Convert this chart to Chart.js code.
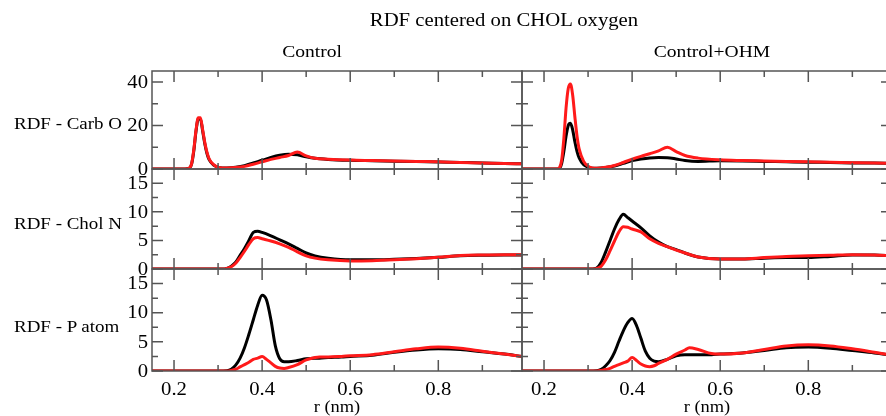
<!DOCTYPE html>
<html>
<head>
<meta charset="utf-8">
<script src="https://cdn.jsdelivr.net/npm/chart.js@4.4.1/dist/chart.umd.min.js"></script>
<style>
  html, body { margin: 0; padding: 0; background: #fff; }
  body { width: 886px; height: 416px; overflow: hidden; position: relative;
         font-family: "Liberation Serif", "DejaVu Serif", serif; color: #000; }
  canvas { position: absolute; left: 0; top: 0; }
  .lbl { position: absolute; white-space: nowrap; line-height: 1; }
</style>
</head>
<body>
<canvas id="c0" width="900" height="416"></canvas>
<canvas id="c1" width="900" height="416"></canvas>
<canvas id="c2" width="900" height="416"></canvas>
<canvas id="c3" width="900" height="416"></canvas>
<canvas id="c4" width="900" height="416"></canvas>
<canvas id="c5" width="900" height="416"></canvas>
<script>
// r values (nm) for each row of panels
const rCarb = [0.15, 0.2, 0.22, 0.23, 0.235, 0.24, 0.245, 0.25, 0.255, 0.26, 0.265, 0.27, 0.275, 0.28, 0.29,
  0.30, 0.31, 0.32, 0.34, 0.36, 0.38, 0.40, 0.42, 0.44, 0.46, 0.48, 0.50, 0.52, 0.55, 0.60, 0.65, 0.70,
  0.75, 0.80, 0.85, 0.90, 0.95, 0.99];
const carbControlBlack = [0, 0, 0, 0.1, 0.4, 2.3, 8.5, 17.5, 23, 23, 17.5, 11.5, 7, 4.2, 1.8,
  0.8, 0.5, 0.5, 0.8, 1.5, 2.8, 4.0, 5.3, 6.3, 6.8, 6.5, 5.6, 4.9, 4.4, 4.0, 3.8, 3.6,
  3.4, 3.2, 3.0, 2.8, 2.5, 2.4];
const carbControlRed = [0, 0, 0, 0.1, 0.5, 2.5, 9, 18, 23.5, 23.5, 18, 12, 7.5, 4.5, 2.0,
  0.8, 0.5, 0.5, 0.7, 1.2, 2.2, 3.3, 4.4, 5.3, 6.2, 7.8, 6.0, 4.9, 4.5, 4.1, 3.9, 3.7,
  3.5, 3.3, 3.0, 2.8, 2.5, 2.4];
const carbOhmBlack = [0, 0, 0, 0, 0.3, 2.5, 8, 15, 20, 21, 18, 12.5, 8, 5, 2,
  0.9, 0.4, 0.4, 0.7, 1.4, 2.6, 3.9, 4.6, 5.1, 5.3, 5.2, 4.6, 3.9, 3.5, 3.8, 3.7, 3.5,
  3.3, 3.1, 3.0, 2.8, 2.7, 2.6];
const carbOhmRed = [0, 0, 0, 0, 0.5, 4, 14, 28, 37, 39, 34, 24, 15, 9, 3.5,
  1.3, 0.5, 0.4, 0.8, 1.6, 3.0, 4.5, 5.8, 7.0, 8.3, 10.0, 8.0, 6.2, 5.0, 4.2, 3.9, 3.7,
  3.5, 3.3, 3.1, 2.9, 2.7, 2.6];

const rCholN = [0.15, 0.2, 0.25, 0.30, 0.31, 0.32, 0.33, 0.34, 0.35, 0.36, 0.37, 0.38, 0.39, 0.40,
  0.42, 0.44, 0.46, 0.48, 0.50, 0.52, 0.55, 0.60, 0.65, 0.70, 0.75, 0.80, 0.85, 0.90, 0.95, 0.99];
const cholControlBlack = [0, 0, 0, 0, 0, 0.1, 0.5, 1.2, 2.4, 3.6, 5.0, 6.4, 6.6, 6.4,
  5.8, 5.1, 4.4, 3.6, 2.8, 2.3, 1.9, 1.6, 1.6, 1.7, 1.85, 2.05, 2.3, 2.4, 2.45, 2.45];
const cholControlRed = [0, 0, 0, 0, 0, 0.1, 0.4, 1.0, 2.0, 3.1, 4.3, 5.3, 5.5, 5.3,
  4.9, 4.4, 3.8, 3.0, 2.3, 1.9, 1.6, 1.4, 1.45, 1.6, 1.8, 2.05, 2.35, 2.45, 2.5, 2.5];
const cholOhmBlack = [0, 0, 0, 0, 0, 0.2, 1.2, 3.0, 5.0, 7.0, 8.6, 9.6, 9.0, 8.4,
  7.2, 5.8, 4.7, 3.9, 3.4, 2.8, 2.1, 1.75, 1.75, 1.9, 2.0, 2.0, 2.2, 2.45, 2.45, 2.3];
const cholOhmRed = [0, 0, 0, 0, 0, 0.1, 0.5, 1.6, 3.2, 4.9, 6.5, 7.4, 7.3, 7.0,
  6.5, 5.3, 4.5, 3.9, 3.3, 2.8, 2.1, 1.75, 1.75, 2.0, 2.2, 2.3, 2.4, 2.5, 2.45, 2.3];

const rPatom = [0.15, 0.2, 0.25, 0.30, 0.32, 0.33, 0.34, 0.35, 0.36, 0.37, 0.38, 0.39, 0.40, 0.41,
  0.42, 0.43, 0.44, 0.45, 0.46, 0.48, 0.50, 0.52, 0.53, 0.55, 0.58, 0.60, 0.65, 0.70, 0.75, 0.80,
  0.85, 0.90, 0.95, 0.99];
const patomControlBlack = [0, 0, 0, 0, 0.05, 0.3, 1.0, 2.2, 4.0, 6.3, 8.8, 11.3, 13.0, 12.2,
  8.8, 4.3, 2.1, 1.6, 1.6, 1.8, 2.1, 2.2, 2.2, 2.3, 2.4, 2.5, 2.7, 3.2, 3.6, 3.8,
  3.7, 3.3, 2.9, 2.5];
const patomControlRed = [0, 0, 0, 0, 0, 0.1, 0.3, 0.7, 1.1, 1.5, 2.0, 2.2, 2.5, 2.0,
  1.4, 0.8, 0.5, 0.45, 0.6, 1.1, 1.9, 2.3, 2.4, 2.4, 2.5, 2.6, 2.8, 3.3, 3.8, 4.1,
  3.9, 3.4, 2.9, 2.5];
const patomOhmBlack = [0, 0, 0, 0, 0.05, 0.3, 0.9, 1.8, 3.2, 5.1, 6.9, 8.3, 9.0, 7.8,
  5.6, 3.4, 2.2, 1.7, 1.6, 2.0, 2.6, 2.8, 2.8, 2.8, 2.8, 2.9, 3.1, 3.5, 4.0, 4.1,
  3.9, 3.5, 3.1, 2.7];
const patomOhmRed = [0, 0, 0, 0, 0, 0.1, 0.25, 0.45, 0.8, 1.1, 1.4, 1.7, 2.3, 1.8,
  1.2, 0.85, 0.75, 0.9, 1.3, 2.0, 2.9, 3.6, 4.0, 3.7, 3.0, 2.9, 3.1, 3.7, 4.3, 4.5,
  4.3, 3.8, 3.2, 2.7];

const xMajor = [0.2, 0.4, 0.6, 0.8];
const xMinor = [0.3, 0.5, 0.7, 0.9];
const yMajorCarb = [0, 20, 40];
const yMinorCarb = [10, 30];
const yMajor = [0, 5, 10, 15];
const yMinor = [2.5, 7.5, 12.5];

const rowLabels = ['RDF - Carb O', 'RDF - Chol N', 'RDF - P atom'];
const colLabels = ['Control', 'Control+OHM'];

const STRETCH = 1.15;
const FONT = '"Liberation Serif", "DejaVu Serif", serif';

function pts(xs, ys) {
  return xs.map((x, i) => ({ x: x, y: ys[i] }));
}

// draws the grace-like frame, inward ticks and tick labels
const framePlugin = {
  id: 'frame',
  afterDraw(chart, args, opts) {
    const ctx = chart.ctx;
    const a = chart.chartArea;
    const xs = chart.scales.x, ys = chart.scales.y;
    ctx.save();
    ctx.strokeStyle = '#555555';
    ctx.lineWidth = 1.5;
    ctx.strokeRect(a.left, a.top, a.right - a.left, a.bottom - a.top);
    ctx.beginPath();
    const tick = (vals, len) => {
      vals.forEach(v => {
        const px = xs.getPixelForValue(v);
        ctx.moveTo(px, a.bottom); ctx.lineTo(px, a.bottom - len);
        ctx.moveTo(px, a.top); ctx.lineTo(px, a.top + len);
      });
    };
    tick(xMajor, 11);
    tick(xMinor, 6);
    const ytick = (vals, len) => {
      vals.forEach(v => {
        const py = ys.getPixelForValue(v);
        ctx.moveTo(a.left, py); ctx.lineTo(a.left + len, py);
        ctx.moveTo(a.right, py); ctx.lineTo(a.right - len, py);
      });
    };
    ytick(opts.yMajor, 11);
    ytick(opts.yMinor, 6);
    ctx.stroke();

    ctx.fillStyle = '#000';
    ctx.font = '18px ' + FONT;
    ctx.textBaseline = 'middle';
    if (opts.yLabels) {
      ctx.textAlign = 'right';
      opts.yMajor.forEach(v => {
        ctx.save();
        ctx.translate(a.left - 4, ys.getPixelForValue(v) + 1);
        ctx.scale(STRETCH, 1);
        ctx.fillText(String(v), 0, 0);
        ctx.restore();
      });
    }
    if (opts.xLabels) {
      ctx.textAlign = 'center';
      xMajor.forEach(v => {
        ctx.save();
        ctx.translate(xs.getPixelForValue(v), a.bottom + 19);
        ctx.scale(STRETCH, 1);
        ctx.fillText(String(v), 0, 0);
        ctx.restore();
      });
    }
    ctx.restore();
  }
};

const cols = [[152, 522], [522, 892]];
const rows = [[71, 169], [169, 269], [269, 371]];

const panels = [
  { row: 0, col: 0, r: rCarb, black: carbControlBlack, red: carbControlRed, yMax: 45, yMajor: yMajorCarb, yMinor: yMinorCarb },
  { row: 0, col: 1, r: rCarb, black: carbOhmBlack, red: carbOhmRed, yMax: 45, yMajor: yMajorCarb, yMinor: yMinorCarb },
  { row: 1, col: 0, r: rCholN, black: cholControlBlack, red: cholControlRed, yMax: 17.5, yMajor: yMajor, yMinor: yMinor },
  { row: 1, col: 1, r: rCholN, black: cholOhmBlack, red: cholOhmRed, yMax: 17.5, yMajor: yMajor, yMinor: yMinor },
  { row: 2, col: 0, r: rPatom, black: patomControlBlack, red: patomControlRed, yMax: 17.5, yMajor: yMajor, yMinor: yMinor },
  { row: 2, col: 1, r: rPatom, black: patomOhmBlack, red: patomOhmRed, yMax: 17.5, yMajor: yMajor, yMinor: yMinor }
];

panels.forEach((p, i) => {
  const canvas = document.getElementById('c' + i);
  const [left, right] = cols[p.col];
  const [top, bottom] = rows[p.row];
  new Chart(canvas, {
    type: 'line',
    data: {
      datasets: [
        { data: pts(p.r, p.red), borderColor: '#ff1a1a', borderWidth: 3 },
        { data: pts(p.r, p.black), borderColor: '#000000', borderWidth: 3 }
      ]
    },
    options: {
      responsive: false,
      animation: false,
      devicePixelRatio: 1,
      layout: { padding: { left: left, top: top, right: canvas.width - right, bottom: canvas.height - bottom } },
      elements: {
        point: { radius: 0 },
        line: { cubicInterpolationMode: 'monotone', borderCapStyle: 'round', borderJoinStyle: 'round' }
      },
      scales: {
        x: { type: 'linear', min: 0.15, max: 0.99, display: false },
        y: { type: 'linear', min: 0, max: p.yMax, display: false }
      },
      plugins: {
        legend: { display: false },
        tooltip: { enabled: false },
        frame: { yMajor: p.yMajor, yMinor: p.yMinor, yLabels: p.col === 0, xLabels: p.row === 2 }
      }
    },
    plugins: [framePlugin]
  });
});

// text around the panels
function addText(text, x, y, size, align) {
  const d = document.createElement('div');
  d.className = 'lbl';
  d.textContent = text;
  d.style.left = x + 'px';
  d.style.top = y + 'px';
  d.style.fontSize = size + 'px';
  if (align === 'left') {
    d.style.transformOrigin = 'left center';
    d.style.transform = 'translate(0, -50%) scaleX(' + STRETCH + ')';
  } else {
    d.style.transform = 'translate(-50%, -50%) scaleX(' + STRETCH + ')';
  }
  document.body.appendChild(d);
}

addText('RDF centered on CHOL oxygen', 504, 20, 18, 'center');
addText(colLabels[0], 312, 51, 17, 'center');
addText(colLabels[1], 712, 51, 17, 'center');
addText(rowLabels[0], 14, 124, 16.5, 'left');
addText(rowLabels[1], 14, 224, 16.5, 'left');
addText(rowLabels[2], 14, 327, 16.5, 'left');
addText('r (nm)', 337, 407, 16, 'center');
addText('r (nm)', 707, 407, 16, 'center');
</script>
</body>
</html>
